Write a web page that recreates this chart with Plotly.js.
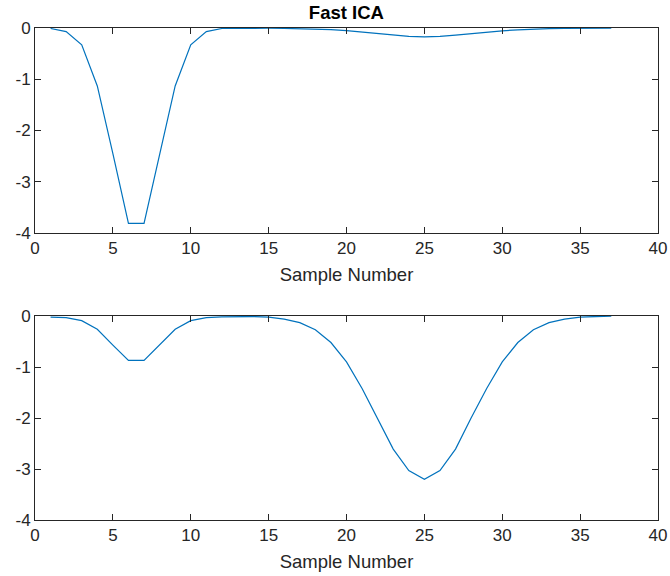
<!DOCTYPE html>
<html>
<head>
<meta charset="utf-8">
<script src="https://cdn.plot.ly/plotly-3.0.1.min.js"></script>
<style>html,body{margin:0;padding:0;background:#fff;}#chart{width:670px;height:576px;}</style>
</head>
<body>
<div id="chart"></div>
<script>
const sampleNumbers = [1,2,3,4,5,6,7,8,9,10,11,12,13,14,15,16,17,18,19,20,21,22,23,24,25,26,27,28,29,30,31,32,33,34,35,36,37];
const component1 = [-0.01,-0.07,-0.33,-1.13,-2.45,-3.81,-3.81,-2.45,-1.13,-0.33,-0.07,-0.01,-0.005,-0.003,-0.005,-0.008,-0.012,-0.02,-0.03,-0.05,-0.08,-0.11,-0.14,-0.165,-0.175,-0.165,-0.14,-0.11,-0.08,-0.055,-0.035,-0.02,-0.012,-0.007,-0.004,-0.002,-0.001];
const component2 = [-0.02,-0.03,-0.09,-0.26,-0.57,-0.87,-0.87,-0.57,-0.26,-0.09,-0.03,-0.015,-0.01,-0.01,-0.02,-0.06,-0.13,-0.27,-0.52,-0.9,-1.42,-2.0,-2.61,-3.03,-3.2,-3.03,-2.61,-2.0,-1.42,-0.9,-0.52,-0.27,-0.13,-0.06,-0.02,-0.01,-0.005];
const xTickVals = [0,5,10,15,20,25,30,35,40];
const xTickText = ['0','5','10','15','20','25','30','35','40'];
const yTickVals = [-4,-3,-2,-1,0];
const yTickText = ['-4','-3','-2','-1','0'];
const chartTitle = 'Fast ICA';
const xLabel = 'Sample Number';

const axisColor = '#262626';
const font = 'Liberation Sans, Arial, Helvetica, sans-serif';

function xAxis(anchor){
  return {
    anchor: anchor, domain:[0,1], range:[0,40],
    tickmode:'array', tickvals:xTickVals, ticktext:xTickText,
    ticks:'inside', ticklen:6, tickcolor:axisColor, tickwidth:1,
    showline:true, linecolor:axisColor, linewidth:1, mirror:'ticks',
    showgrid:false, zeroline:false,
    tickfont:{family:font, size:17, color:axisColor},
    title:{text:xLabel, font:{family:font, size:18.5, color:axisColor}, standoff:10}
  };
}
function yAxis(anchor, domain){
  return {
    anchor: anchor, domain:domain, range:[-4,0],
    tickmode:'array', tickvals:yTickVals, ticktext:yTickText,
    ticks:'inside', ticklen:6, tickcolor:axisColor, tickwidth:1,
    showline:true, linecolor:axisColor, linewidth:1, mirror:'ticks',
    showgrid:false, zeroline:false,
    tickfont:{family:font, size:17, color:axisColor}
  };
}

const traces = [
  {x:sampleNumbers, y:component1, type:'scatter', mode:'lines', line:{color:'#0072BD', width:1.2}, xaxis:'x', yaxis:'y', showlegend:false},
  {x:sampleNumbers, y:component2, type:'scatter', mode:'lines', line:{color:'#0072BD', width:1.2}, xaxis:'x2', yaxis:'y2', showlegend:false}
];

const layout = {
  width:670, height:576,
  paper_bgcolor:'#ffffff', plot_bgcolor:'#ffffff',
  margin:{l:35, r:12, t:28, b:56},
  title:{text:'<b>'+chartTitle+'</b>', font:{family:font, size:18.5, color:'#000000'}, x:0.517, xref:'container', y:1-13/576, yref:'container', yanchor:'middle', xanchor:'center'},
  xaxis: xAxis('y'),
  yaxis: yAxis('x', [0.5833,1]),
  xaxis2: xAxis('y2'),
  yaxis2: yAxis('x2', [0,0.4146])
};

Plotly.newPlot('chart', traces, layout, {displayModeBar:false, staticPlot:true});
</script>
</body>
</html>
